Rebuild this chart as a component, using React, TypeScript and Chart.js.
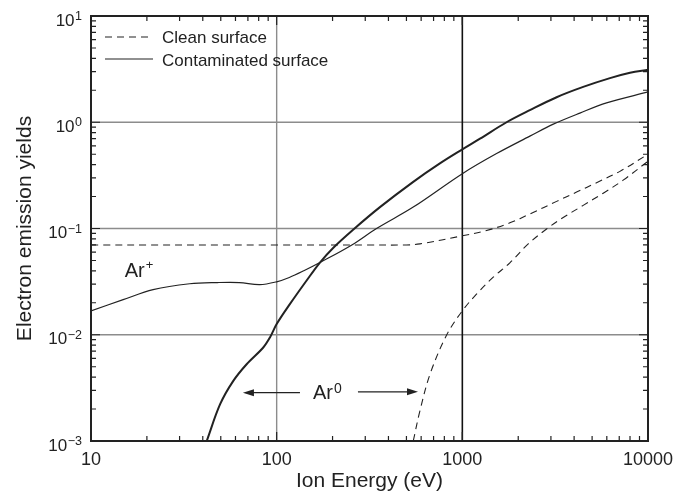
import React, { useEffect, useRef } from "react";
import { Chart, registerables } from "chart.js";

Chart.register(...registerables);

const FONT = '"Liberation Sans", Arial, Helvetica, sans-serif';
const INK = "#222";

// ---- Data (Ion energy in eV, electron emission yield) ----
const cleanIonEnergy = [10, 100, 300, 500, 591, 1017, 1352, 1803, 2311, 3220, 4125, 5285, 7060, 10000];
const cleanIonYield = [0.07, 0.07, 0.07, 0.07, 0.0716, 0.0859, 0.0957, 0.113, 0.137, 0.18, 0.22, 0.27, 0.345, 0.5];

const cleanNeutralEnergy = [544, 591, 670, 823, 1000, 1195, 1467, 1803, 2264, 2843, 3494, 4477, 5740, 7350, 10000];
const cleanNeutralYield = [0.001, 0.00192, 0.00426, 0.00993, 0.0168, 0.0242, 0.0348, 0.0475, 0.0716, 0.099, 0.127, 0.165, 0.215, 0.285, 0.43];

const contamIonEnergy = [10, 14.9, 21.6, 34, 48, 63, 81, 100, 117, 140, 171, 254, 345, 544, 1000, 1529, 2311, 3090, 4295, 5980, 10000];
const contamIonYield = [0.0168, 0.0214, 0.0266, 0.0302, 0.031, 0.031, 0.0296, 0.0315, 0.0346, 0.04, 0.0478, 0.07, 0.1, 0.159, 0.328, 0.507, 0.74, 0.96, 1.22, 1.52, 1.93];

const contamNeutralEnergy = [42, 49.6, 58.4, 68.9, 84.7, 92, 100, 118, 145, 171, 202, 259, 360, 544, 757, 1000, 1245, 1730, 2311, 3220, 4477, 6240, 8000, 10000];
const contamNeutralYield = [0.001, 0.00222, 0.00368, 0.00528, 0.00759, 0.00944, 0.0126, 0.0195, 0.0324, 0.0478, 0.066, 0.098, 0.159, 0.275, 0.41, 0.556, 0.7, 1.0, 1.3, 1.72, 2.15, 2.6, 2.92, 3.12];

// ---- Axes ----
const xTickValues = [10, 100, 1000, 10000];
const xTickLabels = ["10", "100", "1000", "10000"];
const yTickExponents = [-3, -2, -1, 0, 1];
const xGridGray = [100];
const xGridBlack = [1000];
const yGridGray = [0.01, 0.1, 1];

const xTitle = "Ion Energy (eV)";
const yTitle = "Electron emission yields";
const legendLabels = ["Clean surface", "Contaminated surface"];

// annotation anchors in data units
const arPlusAt = { x: 15.2, y: 0.0352 };
const arZeroAt = { x: 156.7, y: 0.00249 };
const arrowLeft = { from: 133.5, to: 65.8, y: 0.00285 };
const arrowRight = { from: 274, to: 577, y: 0.0029 };

const pts = (xs: number[], ys: number[]) => xs.map((x, i) => ({ x, y: ys[i] }));

const DASH = [7, 5];

function drawArrow(ctx: CanvasRenderingContext2D, x0: number, x1: number, y: number) {
  const dir = Math.sign(x1 - x0);
  ctx.beginPath();
  ctx.moveTo(x0, y);
  ctx.lineTo(x1 - dir * 9, y);
  ctx.stroke();
  ctx.beginPath();
  ctx.moveTo(x1, y);
  ctx.lineTo(x1 - dir * 11, y - 3.5);
  ctx.lineTo(x1 - dir * 11, y + 3.5);
  ctx.closePath();
  ctx.fill();
}

const framePlugin = {
  id: "frame",
  beforeDatasetsDraw(chart: any) {
    const { ctx, chartArea: a, scales } = chart;
    const x = scales.x, y = scales.y;
    ctx.save();
    ctx.strokeStyle = "#8c8c8c";
    ctx.lineWidth = 1.4;
    for (const v of yGridGray) {
      const py = y.getPixelForValue(v);
      ctx.beginPath(); ctx.moveTo(a.left, py); ctx.lineTo(a.right, py); ctx.stroke();
    }
    for (const v of xGridGray) {
      const px = x.getPixelForValue(v);
      ctx.beginPath(); ctx.moveTo(px, a.top); ctx.lineTo(px, a.bottom); ctx.stroke();
    }
    ctx.strokeStyle = "#111";
    ctx.lineWidth = 1.6;
    for (const v of xGridBlack) {
      const px = x.getPixelForValue(v);
      ctx.beginPath(); ctx.moveTo(px, a.top); ctx.lineTo(px, a.bottom); ctx.stroke();
    }
    ctx.restore();
  },
  afterDatasetsDraw(chart: any) {
    const { ctx, chartArea: a, scales } = chart;
    const x = scales.x, y = scales.y;
    ctx.save();
    ctx.strokeStyle = INK;
    ctx.fillStyle = INK;

    // frame
    ctx.lineWidth = 2;
    ctx.strokeRect(a.left, a.top, a.right - a.left, a.bottom - a.top);

    // ticks (inward, all four sides)
    ctx.lineWidth = 1.2;
    for (let d = 1; d <= 3; d++) {
      for (let m = 1; m <= 9; m++) {
        const v = m * Math.pow(10, d);
        const px = x.getPixelForValue(v);
        const len = m === 1 ? 9 : 5;
        ctx.beginPath();
        ctx.moveTo(px, a.bottom); ctx.lineTo(px, a.bottom - len);
        ctx.moveTo(px, a.top); ctx.lineTo(px, a.top + len);
        ctx.stroke();
      }
    }
    for (let k = -3; k <= 0; k++) {
      for (let m = 1; m <= 9; m++) {
        const v = m * Math.pow(10, k);
        const py = y.getPixelForValue(v);
        const len = m === 1 ? 9 : 5;
        ctx.beginPath();
        ctx.moveTo(a.left, py); ctx.lineTo(a.left + len, py);
        ctx.moveTo(a.right, py); ctx.lineTo(a.right - len, py);
        ctx.stroke();
      }
    }

    // x tick labels
    ctx.font = `18px ${FONT}`;
    ctx.textAlign = "center";
    ctx.textBaseline = "alphabetic";
    xTickValues.forEach((v, i) => {
      ctx.fillText(xTickLabels[i], x.getPixelForValue(v), a.bottom + 24);
    });

    // y tick labels 10^k
    const rightEdge = a.left - 9;
    for (const k of yTickExponents) {
      const py = y.getPixelForValue(Math.pow(10, k));
      const sup = k < 0 ? "\u2212" + Math.abs(k) : String(k);
      ctx.font = `12.5px ${FONT}`;
      const sw = ctx.measureText(sup).width;
      ctx.textAlign = "left";
      ctx.fillText(sup, rightEdge - sw, py + 4);
      ctx.font = `17px ${FONT}`;
      ctx.textAlign = "right";
      ctx.fillText("10", rightEdge - sw - 0.5, py + 9.5);
    }

    // axis titles
    ctx.font = `21px ${FONT}`;
    ctx.textAlign = "center";
    ctx.fillText(xTitle, (a.left + a.right) / 2, a.bottom + 46);
    ctx.save();
    ctx.translate(25, (a.top + a.bottom) / 2);
    ctx.rotate(-Math.PI / 2);
    ctx.textBaseline = "middle";
    ctx.fillText(yTitle, 0, 0);
    ctx.restore();

    // legend
    ctx.lineWidth = 1.1;
    const lx0 = a.left + 14, lx1 = a.left + 62;
    const ly = [a.top + 21, a.top + 43];
    ctx.setLineDash(DASH);
    ctx.beginPath(); ctx.moveTo(lx0, ly[0]); ctx.lineTo(lx1, ly[0]); ctx.stroke();
    ctx.setLineDash([]);
    ctx.beginPath(); ctx.moveTo(lx0, ly[1]); ctx.lineTo(lx1, ly[1]); ctx.stroke();
    ctx.font = `17px ${FONT}`;
    ctx.textAlign = "left";
    ctx.textBaseline = "alphabetic";
    ctx.fillText(legendLabels[0], a.left + 71, ly[0] + 6);
    ctx.fillText(legendLabels[1], a.left + 71, ly[1] + 6.5);

    // annotations
    const apx = x.getPixelForValue(arPlusAt.x), apy = y.getPixelForValue(arPlusAt.y);
    ctx.font = `20px ${FONT}`;
    ctx.fillText("Ar", apx, apy);
    const wAr = ctx.measureText("Ar").width;
    ctx.font = `13px ${FONT}`;
    ctx.fillText("+", apx + wAr + 1, apy - 8);

    const azx = x.getPixelForValue(arZeroAt.x), azy = y.getPixelForValue(arZeroAt.y);
    ctx.font = `20px ${FONT}`;
    ctx.fillText("Ar", azx, azy);
    ctx.font = `14px ${FONT}`;
    ctx.fillText("0", azx + wAr + 1, azy - 6);

    ctx.lineWidth = 1.2;
    drawArrow(ctx, x.getPixelForValue(arrowLeft.from), x.getPixelForValue(arrowLeft.to), y.getPixelForValue(arrowLeft.y));
    drawArrow(ctx, x.getPixelForValue(arrowRight.from), x.getPixelForValue(arrowRight.to), y.getPixelForValue(arrowRight.y));

    ctx.restore();
  },
};

export default function App() {
  const ref = useRef<HTMLCanvasElement>(null);
  useEffect(() => {
    document.body.style.margin = "0";
    const common = {
      pointRadius: 0,
      borderColor: INK,
      tension: 0.35,
      fill: false,
    };
    const chart = new Chart(ref.current!, {
      type: "line",
      data: {
        datasets: [
          { ...common, label: "Clean Ar+", data: pts(cleanIonEnergy, cleanIonYield), borderWidth: 1.1, borderDash: DASH },
          { ...common, label: "Clean Ar0", data: pts(cleanNeutralEnergy, cleanNeutralYield), borderWidth: 1.1, borderDash: DASH },
          { ...common, label: "Contaminated Ar+", data: pts(contamIonEnergy, contamIonYield), borderWidth: 1.2 },
          { ...common, label: "Contaminated Ar0", data: pts(contamNeutralEnergy, contamNeutralYield), borderWidth: 2 },
        ],
      },
      options: {
        responsive: false,
        animation: false,
        devicePixelRatio: 1,
        parsing: false as any,
        layout: { padding: { left: 91, right: 27, top: 16, bottom: 52 } },
        plugins: { legend: { display: false }, tooltip: { enabled: false } },
        scales: {
          x: { type: "logarithmic", min: 10, max: 10000, display: false },
          y: { type: "logarithmic", min: 0.001, max: 10, display: false },
        },
      },
      plugins: [framePlugin],
    });
    return () => chart.destroy();
  }, []);
  return <canvas ref={ref} width={675} height={493} style={{ display: "block" }} />;
}
